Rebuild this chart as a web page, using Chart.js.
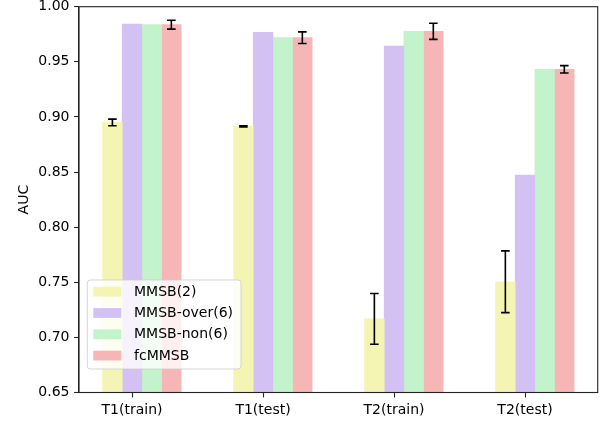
<!DOCTYPE html>
<html>
<head>
<meta charset="utf-8">
<script src="https://cdn.jsdelivr.net/npm/chart.js@4.4.1/dist/chart.umd.min.js"></script>
<style>
  html, body { margin: 0; padding: 0; background: #fff; }
  #wrap { width: 611px; height: 424px; }
</style>
</head>
<body>
<div id="wrap"><canvas id="c" width="611" height="424"></canvas></div>
<script>
// ---- data ----
const categories = ['T1(train)', 'T1(test)', 'T2(train)', 'T2(test)'];
const seriesNames = ['MMSB(2)', 'MMSB-over(6)', 'MMSB-non(6)', 'fcMMSB'];
const mmsb2     = [0.8950, 0.8915, 0.7168, 0.7505];
const mmsb2Err  = [0.0030, 0.0005, 0.0230, 0.0280];
const mmsbOver  = [0.9843, 0.9768, 0.9643, 0.8473];
const mmsbNon   = [0.9837, 0.9719, 0.9777, 0.9432];
const fcMMSB    = [0.9837, 0.9719, 0.9777, 0.9432];
const fcMMSBErr = [0.0040, 0.0053, 0.0073, 0.0033];
const yTicks    = [0.65, 0.70, 0.75, 0.80, 0.85, 0.90, 0.95, 1.00];

// ---- styling ----
const colors = ['#f5f5b3', '#d4c1f4', '#c3f3ca', '#f7b6b6'];
const BAR_W = 0.15;
const FONT = 'DejaVu Sans';
const FS = 14;

const values = [mmsb2, mmsbOver, mmsbNon, fcMMSB];
const errors = [mmsb2Err, null, null, fcMMSBErr];

const datasets = values.map((vals, j) => ({
  label: seriesNames[j],
  data: vals.map((v, i) => ({ x: i + (j - 1) * BAR_W, y: v })),
  backgroundColor: colors[j],
  borderWidth: 0,
  grouped: false,
  categoryPercentage: 1,
  barPercentage: 1,
  errors: errors[j]
}));

const framePlugin = {
  id: 'frame',
  afterDatasetsDraw(chart) {
    const ctx = chart.ctx, ys = chart.scales.y;
    chart.data.datasets.forEach((ds, j) => {
      if (!ds.errors) return;
      const meta = chart.getDatasetMeta(j);
      ctx.save();
      ctx.strokeStyle = '#000';
      ctx.lineWidth = 1.6;
      ds.errors.forEach((e, i) => {
        const x = meta.data[i].x;
        const v = ds.data[i].y;
        const yTop = ys.getPixelForValue(v + e);
        const yBot = ys.getPixelForValue(v - e);
        ctx.beginPath();
        ctx.moveTo(x, yTop); ctx.lineTo(x, yBot);
        ctx.moveTo(x - 4.3, yTop); ctx.lineTo(x + 4.3, yTop);
        ctx.moveTo(x - 4.3, yBot); ctx.lineTo(x + 4.3, yBot);
        ctx.stroke();
      });
      ctx.restore();
    });
  },
  afterDraw(chart) {
    const ctx = chart.ctx, a = chart.chartArea;
    ctx.save();
    ctx.strokeStyle = '#222';
    ctx.lineWidth = 1.1;
    ctx.strokeRect(a.left, a.top, a.right - a.left, a.bottom - a.top);
    ctx.restore();
    // legend
    ctx.save();
    ctx.font = FS + 'px "' + FONT + '"';
    const names = chart.data.datasets.map(d => d.label);
    const maxW = Math.max(...names.map(n => ctx.measureText(n).width));
    const bx = a.left + 8.3;
    const bh = 89;
    const by = a.bottom - 23.5 - bh;
    const hx = bx + 6, hw = 28, hh = 9.8;
    const tx = bx + 46.7;
    const bw = tx - bx + maxW + 8;
    const r = 3;
    ctx.beginPath();
    ctx.moveTo(bx + r, by);
    ctx.lineTo(bx + bw - r, by); ctx.arcTo(bx + bw, by, bx + bw, by + r, r);
    ctx.lineTo(bx + bw, by + bh - r); ctx.arcTo(bx + bw, by + bh, bx + bw - r, by + bh, r);
    ctx.lineTo(bx + r, by + bh); ctx.arcTo(bx, by + bh, bx, by + bh - r, r);
    ctx.lineTo(bx, by + r); ctx.arcTo(bx, by, bx + r, by, r);
    ctx.closePath();
    ctx.fillStyle = 'rgba(255,255,255,0.8)';
    ctx.fill();
    ctx.strokeStyle = 'rgba(204,204,204,0.8)';
    ctx.lineWidth = 1;
    ctx.stroke();
    ctx.textBaseline = 'middle';
    ctx.textAlign = 'left';
    names.forEach((n, j) => {
      const cy = by + 11.7 + j * 21.3;
      ctx.fillStyle = chart.data.datasets[j].backgroundColor;
      ctx.fillRect(hx, cy - hh / 2, hw, hh);
      ctx.fillStyle = '#000';
      ctx.fillText(n, tx, cy + 0.5);
    });
    ctx.restore();
  }
};

new Chart(document.getElementById('c'), {
  type: 'bar',
  data: { datasets },
  options: {
    responsive: false,
    animation: false,
    layout: { padding: { left: 0, right: 13.3, top: 6.7, bottom: 0 } },
    plugins: { legend: { display: false }, tooltip: { enabled: false } },
    scales: {
      x: {
        type: 'linear',
        offset: false,
        min: -0.405,
        max: 3.555,
        afterBuildTicks(scale) { scale.ticks = categories.map((c, i) => ({ value: i })); },
        afterFit(scale) { scale.height = 31.5; scale.paddingLeft = 0; scale.paddingRight = 0; },
        ticks: {
          autoSkip: false, maxRotation: 0, minRotation: 0,
          padding: 4.5,
          color: '#000',
          font: { family: FONT, size: FS },
          callback: (v) => categories[v] !== undefined ? categories[v] : ''
        },
        grid: { display: true, offset: false, drawOnChartArea: false, drawTicks: true, tickLength: 4.9, color: '#222', tickWidth: 1.1 },
        border: { display: true, color: '#222', width: 1.1 }
      },
      y: {
        min: 0.65,
        max: 1.0,
        afterBuildTicks(scale) { scale.ticks = yTicks.map(v => ({ value: v })); },
        afterFit(scale) { scale.width = 79; scale.paddingTop = 0; scale.paddingBottom = 0; },
        ticks: {
          padding: 4.6,
          color: '#000',
          font: { family: FONT, size: FS },
          callback: (v) => Number(v).toFixed(2)
        },
        grid: { display: true, drawOnChartArea: false, drawTicks: true, tickLength: 4.9, color: '#222', tickWidth: 1.1 },
        border: { display: true, color: '#222', width: 1.1 },
        title: {
          display: true, text: 'AUC', color: '#000',
          font: { family: FONT, size: FS },
          padding: { top: 16, bottom: 0 }
        }
      }
    }
  },
  plugins: [framePlugin]
});
</script>
</body>
</html>
